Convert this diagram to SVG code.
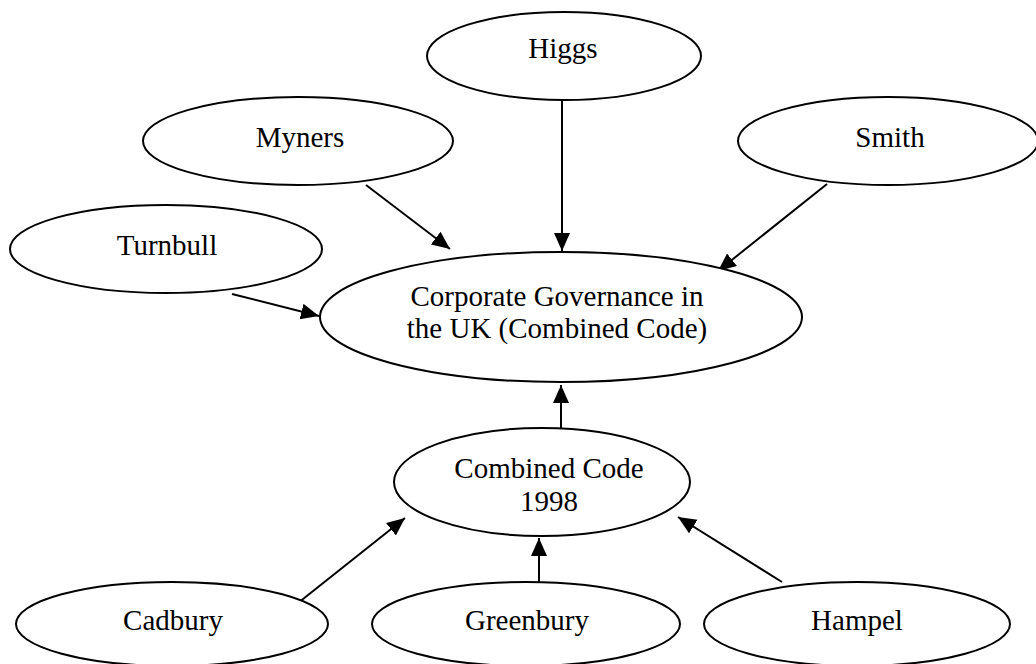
<svg xmlns="http://www.w3.org/2000/svg" width="1036" height="664" viewBox="0 0 1036 664">
<style>
.n{fill:#fff;stroke:#000;stroke-width:2}
.t{font-family:"Liberation Serif","Times New Roman",serif;font-size:29px;fill:#000;text-anchor:middle}
.c{stroke:#000;stroke-width:2;fill:none;marker-end:url(#ah)}
</style>
<defs>
<marker id="ah" markerUnits="userSpaceOnUse" markerWidth="20" markerHeight="18" refX="18" refY="8" orient="auto">
<path d="M0,0 L18,8 L0,16 z" fill="#000"/>
</marker>
</defs>
<rect width="1036" height="664" fill="#fff"/>
<g id="connectors">
<line class="c" x1="562" y1="100" x2="562" y2="251"/>
<line class="c" x1="366" y1="185" x2="450" y2="249"/>
<line class="c" x1="827" y1="184" x2="718" y2="271"/>
<line class="c" x1="232" y1="294" x2="319" y2="316"/>
<line class="c" x1="561" y1="428" x2="561" y2="385"/>
<line class="c" x1="298" y1="603" x2="405" y2="518"/>
<line class="c" x1="539" y1="582" x2="539" y2="538"/>
<line class="c" x1="782" y1="582" x2="678" y2="517"/>
</g>
<g id="higgs"><ellipse class="n" cx="564" cy="56" rx="137" ry="44"/><text class="t" x="563" y="58">Higgs</text></g>
<g id="myners"><ellipse class="n" cx="298" cy="141" rx="155" ry="44"/><text class="t" x="300" y="147">Myners</text></g>
<g id="smith"><ellipse class="n" cx="888" cy="141" rx="150" ry="44"/><text class="t" x="890" y="147">Smith</text></g>
<g id="turnbull"><ellipse class="n" cx="166" cy="249" rx="156" ry="44"/><text class="t" x="167" y="255">Turnbull</text></g>
<g id="corporate-governance"><ellipse class="n" cx="561" cy="317" rx="241" ry="65"/><text class="t" x="557" y="306">Corporate Governance in</text><text class="t" x="557" y="338">the UK (Combined Code)</text></g>
<g id="combined-code-1998"><ellipse class="n" cx="542" cy="482" rx="148" ry="54"/><text class="t" x="549" y="478">Combined Code</text><text class="t" x="549" y="511">1998</text></g>
<g id="cadbury"><ellipse class="n" cx="172" cy="624" rx="156" ry="42"/><text class="t" x="173" y="630">Cadbury</text></g>
<g id="greenbury"><ellipse class="n" cx="526" cy="624" rx="154" ry="42"/><text class="t" x="527" y="630">Greenbury</text></g>
<g id="hampel"><ellipse class="n" cx="857" cy="624" rx="153" ry="42"/><text class="t" x="857" y="630">Hampel</text></g>
</svg>
